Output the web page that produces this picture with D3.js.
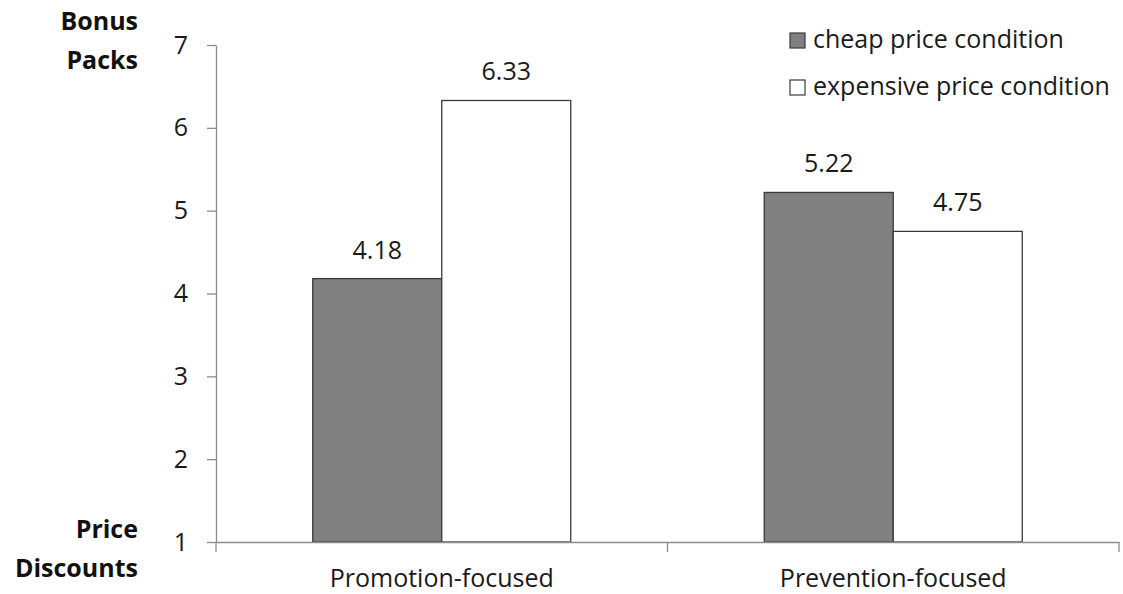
<!DOCTYPE html>
<html>
<head>
<meta charset="utf-8">
<script src="https://cdn.jsdelivr.net/npm/d3@7"></script>
<style>
  html, body { margin: 0; padding: 0; background: #fff; }
  svg { display: block; font-family: "Open Sans", sans-serif; }
</style>
</head>
<body>
<svg id="chart" width="1123" height="594"></svg>
<script>
// Mean preference scores by regulatory focus and price condition
const categories = ["Promotion-focused", "Prevention-focused"];
const seriesNames = ["cheap price condition", "expensive price condition"];
const cheapValues = [4.18, 5.22];
const expensiveValues = [6.33, 4.75];
const yTicks = [1, 2, 3, 4, 5, 6, 7];
const topAxisLabel = ["Bonus", "Packs"];
const bottomAxisLabel = ["Price", "Discounts"];

const seriesFill = ["#808080", "#ffffff"];
const FONT = "'Open Sans', sans-serif";
const FS = 25;

const svg = d3.select("#chart");
const plot = { left: 216, right: 1119, top: 45, bottom: 542 };

const x0 = d3.scaleBand().domain(categories).range([plot.left, plot.right]).padding(0);
const x1 = d3.scaleBand().domain(seriesNames).range([0, x0.bandwidth()])
  .paddingInner(0).paddingOuter(0.75);
const y = d3.scaleLinear().domain([1, 7]).range([plot.bottom, plot.top]);

const rows = categories.map((c, i) => ({
  category: c,
  values: [
    { series: seriesNames[0], value: cheapValues[i], fill: seriesFill[0] },
    { series: seriesNames[1], value: expensiveValues[i], fill: seriesFill[1] }
  ]
}));

// Bars
const groups = svg.append("g").selectAll("g").data(rows).join("g")
  .attr("transform", d => `translate(${x0(d.category)},0)`);

groups.selectAll("rect").data(d => d.values).join("rect")
  .attr("x", d => x1(d.series))
  .attr("y", d => y(d.value))
  .attr("width", x1.bandwidth())
  .attr("height", d => y(1) - y(d.value))
  .attr("fill", d => d.fill)
  .attr("stroke", "#3a3a3a")
  .attr("stroke-width", 1.3);

groups.selectAll("text.val").data(d => d.values).join("text")
  .attr("class", "val")
  .attr("x", d => x1(d.series) + x1.bandwidth() / 2)
  .attr("y", d => y(d.value) - 20)
  .attr("text-anchor", "middle")
  .attr("font-size", FS)
  .attr("fill", "#1a1a1a")
  .text(d => d.value.toFixed(2));

// Y axis
const yAxis = svg.append("g")
  .attr("transform", `translate(${plot.left},0)`)
  .call(d3.axisLeft(y).tickValues(yTicks).tickFormat(d3.format("d")).tickSize(9).tickPadding(19).tickSizeOuter(0));
yAxis.select(".domain").attr("stroke", "#8c8c8c").attr("stroke-width", 1.3);
yAxis.selectAll(".tick line").attr("stroke", "#8c8c8c").attr("stroke-width", 1.3);
yAxis.selectAll(".tick text").attr("font-size", FS).attr("fill", "#1a1a1a")
  .attr("font-family", FONT);

// X axis
const xAxis = svg.append("g")
  .attr("transform", `translate(0,${plot.bottom})`)
  .call(d3.axisBottom(x0).tickSize(0).tickPadding(0));
xAxis.select(".domain").attr("stroke", "#8c8c8c").attr("stroke-width", 1.3);
xAxis.selectAll(".tick text")
  .attr("y", 45).attr("dy", null)
  .attr("font-size", FS).attr("fill", "#1a1a1a")
  .attr("font-family", FONT);

// Boundary ticks between categories
const boundaries = [plot.left, x0(categories[1]), plot.right];
svg.append("g").selectAll("line").data(boundaries).join("line")
  .attr("x1", d => d).attr("x2", d => d)
  .attr("y1", plot.bottom).attr("y2", plot.bottom + 10)
  .attr("stroke", "#8c8c8c").attr("stroke-width", 1.3);

// End labels of the scale
const endLabel = (lines, y0) => {
  svg.append("g").selectAll("text").data(lines).join("text")
    .attr("x", 138)
    .attr("y", (d, i) => y0 + i * 38.5)
    .attr("text-anchor", "end")
    .attr("font-weight", "bold")
    .attr("font-size", FS)
    .attr("fill", "#111")
    .text(d => d);
};
endLabel(topAxisLabel, 30);
endLabel(bottomAxisLabel, 538);

// Legend
const legend = svg.append("g").selectAll("g").data(seriesNames).join("g")
  .attr("transform", (d, i) => `translate(790,${33 + i * 47})`);
legend.append("rect")
  .attr("width", 15).attr("height", 15)
  .attr("fill", (d, i) => seriesFill[i])
  .attr("stroke", "#3a3a3a").attr("stroke-width", 1.2);
legend.append("text")
  .attr("x", 23).attr("y", 15)
  .attr("font-size", FS).attr("fill", "#1a1a1a")
  .text(d => d);
</script>
</body>
</html>
